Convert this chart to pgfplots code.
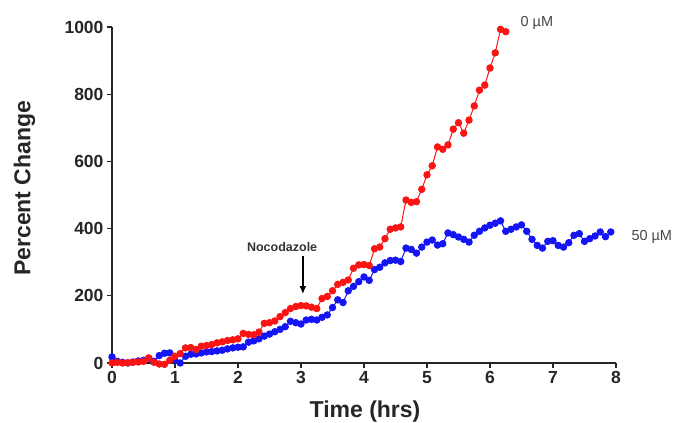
\documentclass[border=0pt]{standalone}
\usepackage{fontspec}
\setmainfont{Liberation Sans}
\usepackage{pgfplots}
\pgfplotsset{compat=1.18}
\usetikzlibrary{arrows.meta}
\definecolor{rd}{RGB}{250,20,20}
\definecolor{bl}{RGB}{20,20,245}
\definecolor{lbl}{RGB}{70,70,70}
\begin{document}
\begin{tikzpicture}
\begin{axis}[
  name=ax,
  at={(0,0)}, anchor=south west,
  scale only axis, width=504pt, height=336pt,
  xmin=0, xmax=8, ymin=0, ymax=1000,
  axis x line=bottom, axis y line=left,
  axis line style={-, line width=1.6pt, black!85},
  xtick={0,...,8}, ytick={0,200,...,1000},
  tick align=outside, major tick length=5pt,
  tick style={line width=1.3pt, black!85},
  /pgf/number format/assume math mode=true,
  /pgf/number format/1000 sep={},
  ticklabel style={font=\fontsize{17.5}{17.5}\selectfont\bfseries, text=black!85},
  clip=false,
  xlabel={Time (hrs)}, ylabel={Percent Change},
  xlabel style={at={(axis description cs:0.502,-0.161)}, anchor=base, font=\fontsize{23}{23}\selectfont\bfseries, text=black!85},
  ylabel style={at={(axis description cs:-0.162,0.52)}, anchor=base, font=\fontsize{23}{23}\selectfont\bfseries, text=black!85},
]
\addplot[bl, line width=1pt, mark=*, mark size=3.2pt, mark options={draw=bl, fill=bl}] coordinates {
(0.000,18) (0.083,5) (0.167,2) (0.250,0) (0.333,3) (0.417,6) (0.500,8) (0.583,14) (0.667,5) (0.750,22)
(0.833,29) (0.917,30) (1.000,8) (1.083,0) (1.167,20) (1.250,26) (1.333,27) (1.417,30) (1.500,33) (1.583,34)
(1.667,36) (1.750,38) (1.833,42) (1.917,45) (2.000,47) (2.083,48) (2.167,62) (2.250,66) (2.333,72) (2.417,80)
(2.500,86) (2.583,93) (2.667,100) (2.750,108) (2.833,124) (2.917,120) (3.000,116) (3.083,128) (3.167,130) (3.250,128)
(3.333,136) (3.417,143) (3.500,165) (3.583,188) (3.667,180) (3.750,215) (3.833,228) (3.917,242) (4.000,256) (4.083,246)
(4.167,278) (4.250,285) (4.333,298) (4.417,305) (4.500,306) (4.583,302) (4.667,342) (4.750,338) (4.833,327) (4.917,345)
(5.000,360) (5.083,366) (5.167,351) (5.250,355) (5.333,387) (5.417,382) (5.500,375) (5.583,368) (5.667,360) (5.750,380)
(5.833,392) (5.917,402) (6.000,410) (6.083,416) (6.167,423) (6.250,392) (6.333,398) (6.417,405) (6.500,411) (6.583,392)
(6.667,368) (6.750,350) (6.833,342) (6.917,362) (7.000,364) (7.083,350) (7.167,345) (7.250,358) (7.333,380) (7.417,385)
(7.500,362) (7.583,370) (7.667,378) (7.750,390) (7.833,376) (7.917,390)
};
\addplot[rd, line width=1pt, mark=*, mark size=3.2pt, mark options={draw=rd, fill=rd}] coordinates {
(0.000,0) (0.083,2) (0.167,0) (0.250,1) (0.333,2) (0.417,3) (0.500,5) (0.583,15) (0.667,2) (0.750,-3)
(0.833,-4) (0.917,8) (1.000,20) (1.083,28) (1.167,45) (1.250,46) (1.333,40) (1.417,50) (1.500,52) (1.583,55)
(1.667,60) (1.750,63) (1.833,67) (1.917,69) (2.000,72) (2.083,88) (2.167,85) (2.250,84) (2.333,92) (2.417,118)
(2.500,120) (2.583,125) (2.667,138) (2.750,150) (2.833,162) (2.917,168) (3.000,171) (3.083,170) (3.167,166) (3.250,162)
(3.333,192) (3.417,198) (3.500,215) (3.583,234) (3.667,240) (3.750,247) (3.833,282) (3.917,292) (4.000,293) (4.083,290)
(4.167,340) (4.250,345) (4.333,370) (4.417,398) (4.500,402) (4.583,405) (4.667,485) (4.750,478) (4.833,480) (4.917,517)
(5.000,560) (5.083,587) (5.167,643) (5.250,636) (5.333,649) (5.417,696) (5.500,715) (5.583,684) (5.667,723) (5.750,765)
(5.833,812) (5.917,827) (6.000,878) (6.083,923) (6.167,993) (6.250,986)
};
\node[anchor=west, font=\fontsize{14.5}{14.5}\selectfont, text=lbl] at (axis cs:6.43,1012) {0 µM};
\node[anchor=west, font=\fontsize{14.5}{14.5}\selectfont, text=lbl] at (axis cs:8.19,375) {50 µM};
\node[font=\fontsize{12.5}{12.5}\selectfont\bfseries, text=black!80] at (axis cs:2.70,345) {Nocodazole};
\draw[-{Latex[length=8pt,width=7pt]}, line width=1.6pt, black] (axis cs:3.03,318) -- (axis cs:3.03,205);
\end{axis}
\pgfresetboundingbox
\path ([shift={(-112pt,-59pt)}]ax.south west) rectangle ([shift={(57pt,27pt)}]ax.north east);
\end{tikzpicture}
\end{document}
